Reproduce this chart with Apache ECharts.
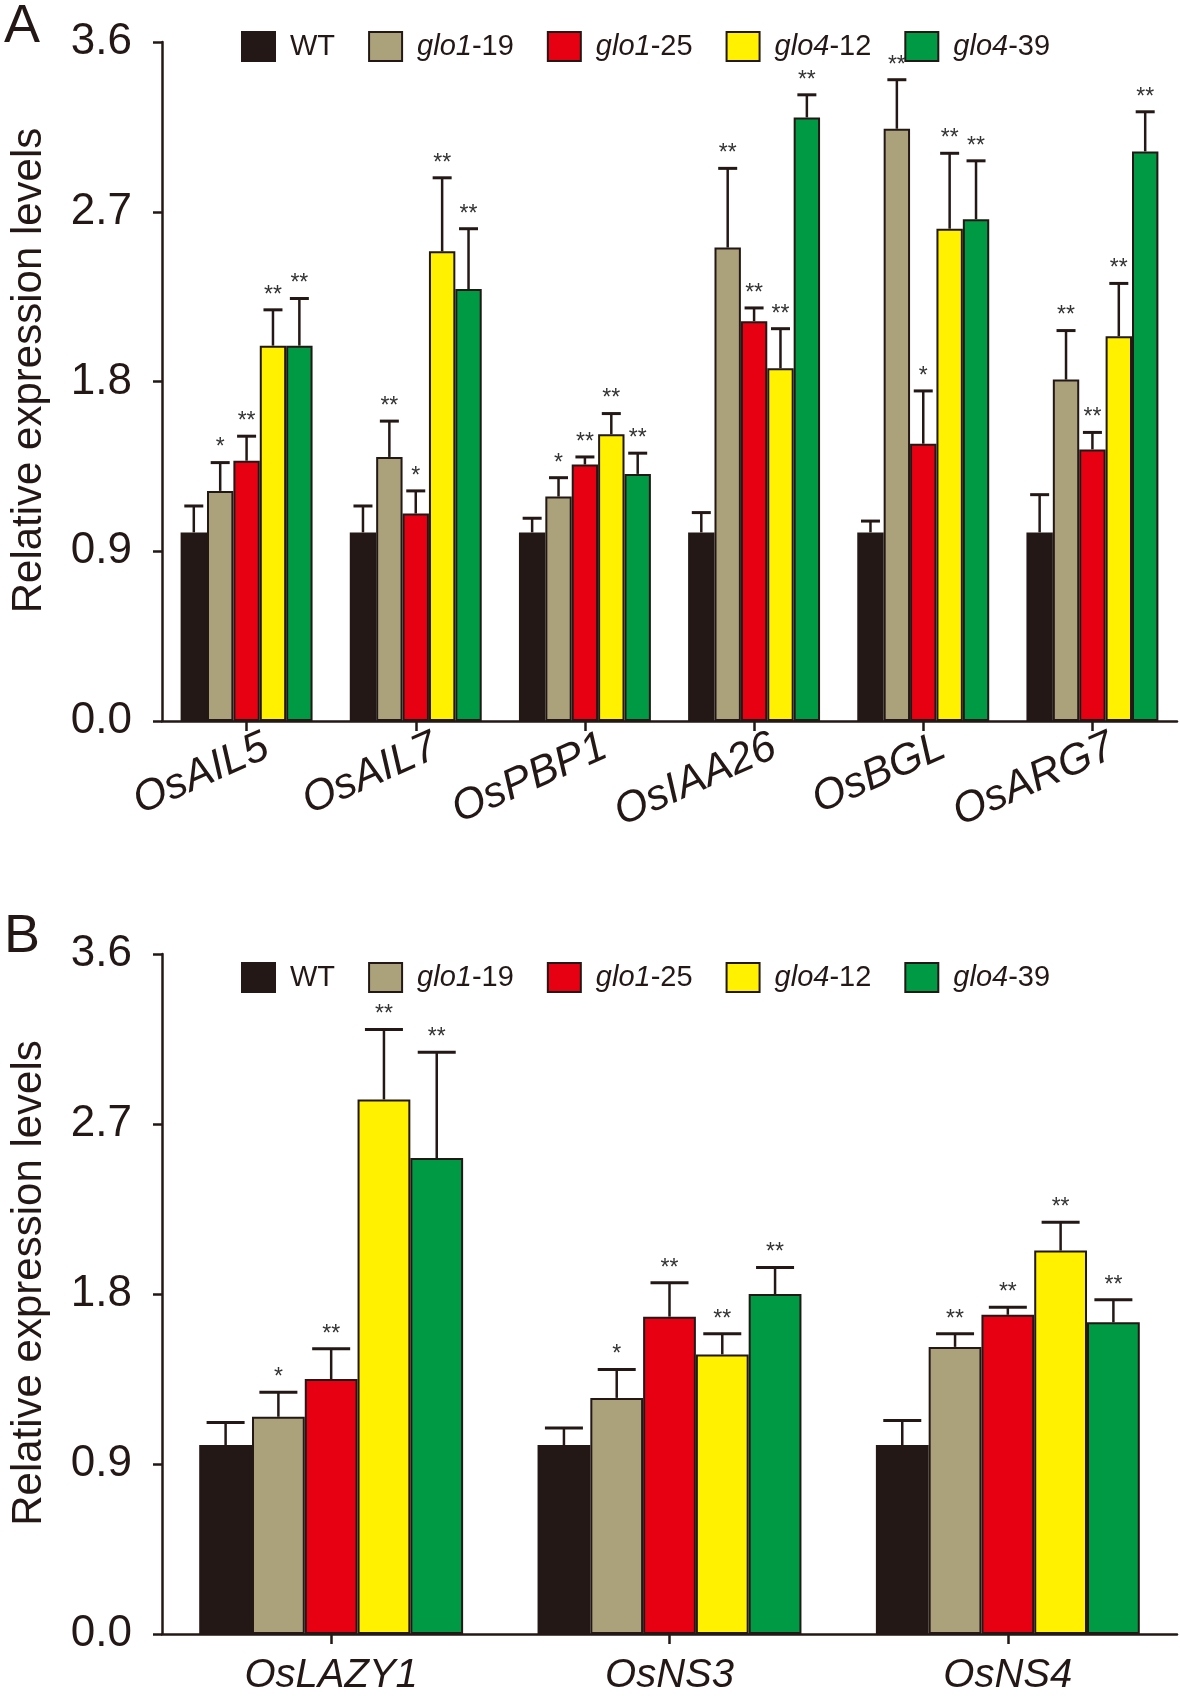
<!DOCTYPE html>
<html>
<head>
<meta charset="utf-8">
<script src="https://cdn.jsdelivr.net/npm/echarts@6/dist/echarts.min.js"></script>
<style>
html,body{margin:0;padding:0;background:#fff;}
#chart{width:1180px;height:1697px;}
</style>
</head>
<body>
<div id="chart"></div>
<script>
// ---------- data ----------
const genotypes = ['WT', 'glo1-19', 'glo1-25', 'glo4-12', 'glo4-39'];
const yTicks = [0, 0.9, 1.8, 2.7, 3.6];

const categoriesA = ['OsAIL5', 'OsAIL7', 'OsPBP1', 'OsIAA26', 'OsBGL', 'OsARG7'];
const wtA      = [1.00, 1.00, 1.00, 1.00, 1.00, 1.00];
const glo1_19A = [1.22, 1.40, 1.19, 2.51, 3.14, 1.81];
const glo1_25A = [1.38, 1.10, 1.36, 2.12, 1.47, 1.44];
const glo4_12A = [1.99, 2.49, 1.52, 1.87, 2.61, 2.04];
const glo4_39A = [1.99, 2.29, 1.31, 3.20, 2.66, 3.02];
const wtErrA      = [0.14, 0.14, 0.075, 0.105, 0.06, 0.20];
const glo1_19ErrA = [0.15, 0.19, 0.10, 0.42, 0.26, 0.26];
const glo1_25ErrA = [0.13, 0.12, 0.04, 0.07, 0.28, 0.09];
const glo4_12ErrA = [0.19, 0.39, 0.11, 0.21, 0.40, 0.28];
const glo4_39ErrA = [0.25, 0.32, 0.11, 0.12, 0.31, 0.21];
const wtSigA      = ['', '', '', '', '', ''];
const glo1_19SigA = ['*', '**', '*', '**', '**', '**'];
const glo1_25SigA = ['**', '*', '**', '**', '*', '**'];
const glo4_12SigA = ['**', '**', '**', '**', '**', '**'];
const glo4_39SigA = ['**', '**', '**', '**', '**', '**'];

const categoriesB = ['OsLAZY1', 'OsNS3', 'OsNS4'];
const wtB      = [1.00, 1.00, 1.00];
const glo1_19B = [1.15, 1.25, 1.52];
const glo1_25B = [1.35, 1.68, 1.69];
const glo4_12B = [2.83, 1.48, 2.03];
const glo4_39B = [2.52, 1.80, 1.65];
const wtErrB      = [0.12, 0.09, 0.13];
const glo1_19ErrB = [0.13, 0.15, 0.07];
const glo1_25ErrB = [0.16, 0.18, 0.04];
const glo4_12ErrB = [0.37, 0.11, 0.15];
const glo4_39ErrB = [0.56, 0.14, 0.12];
const wtSigB      = ['', '', ''];
const glo1_19SigB = ['*', '*', '**'];
const glo1_25SigB = ['**', '**', '**'];
const glo4_12SigB = ['**', '**', '**'];
const glo4_39SigB = ['**', '**', '**'];

// ---------- styling ----------
const colors = ['#231815', '#ABA27C', '#E60012', '#FFF100', '#009944'];
const ink = '#231815';
const font = 'Liberation Sans, Arial, sans-serif';
const gapRatio = 0.22;

const panels = [
  { cats: categoriesA, vals: [wtA, glo1_19A, glo1_25A, glo4_12A, glo4_39A],
    errs: [wtErrA, glo1_19ErrA, glo1_25ErrA, glo4_12ErrA, glo4_39ErrA],
    sigs: [wtSigA, glo1_19SigA, glo1_25SigA, glo4_12SigA, glo4_39SigA] },
  { cats: categoriesB, vals: [wtB, glo1_19B, glo1_25B, glo4_12B, glo4_39B],
    errs: [wtErrB, glo1_19ErrB, glo1_25ErrB, glo4_12ErrB, glo4_39ErrB],
    sigs: [wtSigB, glo1_19SigB, glo1_25SigB, glo4_12SigB, glo4_39SigB] }
];

const series = [];
panels.forEach((p, pi) => {
  genotypes.forEach((g, si) => {
    series.push({
      name: g, type: 'bar', xAxisIndex: pi, yAxisIndex: pi,
      data: p.vals[si],
      barGap: '0%', barCategoryGap: (gapRatio * 100) + '%',
      itemStyle: { color: colors[si], borderColor: ink, borderWidth: 2 },
      z: 2
    });
  });
  genotypes.forEach((g, si) => {
    series.push({
      name: 'err-' + g, type: 'custom', xAxisIndex: pi, yAxisIndex: pi, z: 5, silent: true,
      data: p.cats.map((c, i) => [i, p.vals[si][i], p.errs[si][i]]),
      encode: { x: 0, y: 1 },
      renderItem: function (params, api) {
        const i = api.value(0), v = api.value(1), e = api.value(2);
        const band = api.size([1, 0])[0];
        const bw = band * (1 - gapRatio) / genotypes.length;
        const base = api.coord([i, v]);
        const top = api.coord([i, v + e]);
        const x = base[0] + (si - (genotypes.length - 1) / 2) * bw;
        const cap = bw * 0.72;
        const sig = p.sigs[si][params.dataIndex];
        const children = [
          { type: 'line', shape: { x1: x, y1: base[1], x2: x, y2: top[1] },
            style: { stroke: ink, lineWidth: 2.5 } },
          { type: 'line', shape: { x1: x - cap / 2, y1: top[1], x2: x + cap / 2, y2: top[1] },
            style: { stroke: ink, lineWidth: 3 } }
        ];
        if (sig) {
          children.push({ type: 'text', x: x, y: top[1] - 3,
            style: { text: sig, fill: '#333', font: '23px ' + font,
              textAlign: 'center', textVerticalAlign: 'bottom' } });
        }
        return { type: 'group', children: children };
      }
    });
  });
});

function legendFmt(name) {
  if (name === 'WT') return '{n|WT}';
  const parts = name.split('-');
  return '{i|' + parts[0] + '}{n|-' + parts[1] + '}';
}
const legendBase = {
  data: genotypes, left: 236, icon: 'rect', itemWidth: 33, itemHeight: 29, itemGap: 33,
  selectedMode: false, formatter: legendFmt,
  textStyle: { fontSize: 29, color: ink, padding: [0, 0, 0, 10],
    rich: { i: { fontSize: 29, fontStyle: 'italic', color: ink, fontFamily: font },
            n: { fontSize: 29, color: ink, fontFamily: font } } }
};

function yAx(gi) {
  return {
    type: 'value', gridIndex: gi, min: 0, max: 3.6, interval: 0.9,
    name: 'Relative expression levels', nameLocation: 'middle', nameGap: 112,
    nameTextStyle: { fontSize: 42, color: ink, fontFamily: font, padding: [0, 0, 0, 22] },
    axisLine: { show: true, lineStyle: { color: ink, width: 2.5 } },
    axisTick: { show: true, length: 9, lineStyle: { color: ink, width: 2.5 } },
    splitLine: { show: false },
    axisLabel: { fontSize: 44, color: ink, fontFamily: font, margin: 30,
      formatter: v => yTicks.indexOf(+v.toFixed(1)) >= 0 ? v.toFixed(1) : '' }
  };
}
function xAx(gi, cats, rot) {
  return {
    type: 'category', gridIndex: gi, data: cats,
    axisLine: { lineStyle: { color: ink, width: 2.5 } },
    axisTick: { show: true, alignWithLabel: true, length: 10, lineStyle: { color: ink, width: 2.5 } },
    axisLabel: rot ? { fontSize: 43, fontStyle: 'italic', color: ink, fontFamily: font,
      rotate: rot, margin: 33, interval: 0, padding: [0, -22, 0, 0] }
      : { fontSize: 40, fontStyle: 'italic', color: ink, fontFamily: font,
      rotate: 0, margin: 22, interval: 0 }
  };
}

const option = {
  backgroundColor: '#fff',
  animation: false,
  grid: [
    { left: 151, width: 1026, top: 42, height: 679 },
    { left: 151, width: 1026, top: 954, height: 680 }
  ],
  legend: [
    Object.assign({}, legendBase, { top: 26 }),
    Object.assign({}, legendBase, { top: 957 })
  ],
  xAxis: [xAx(0, categoriesA, 24), xAx(1, categoriesB, 0)],
  yAxis: [yAx(0), yAx(1)],
  graphic: [
    { type: 'text', left: 4, top: 0, style: { text: 'A', font: '54px ' + font, fill: ink } },
    { type: 'text', left: 4, top: 910, style: { text: 'B', font: '54px ' + font, fill: ink } }
  ],
  series: series
};

const chart = echarts.init(document.getElementById('chart'), null, { renderer: 'canvas' });
chart.setOption(option);
</script>
</body>
</html>
